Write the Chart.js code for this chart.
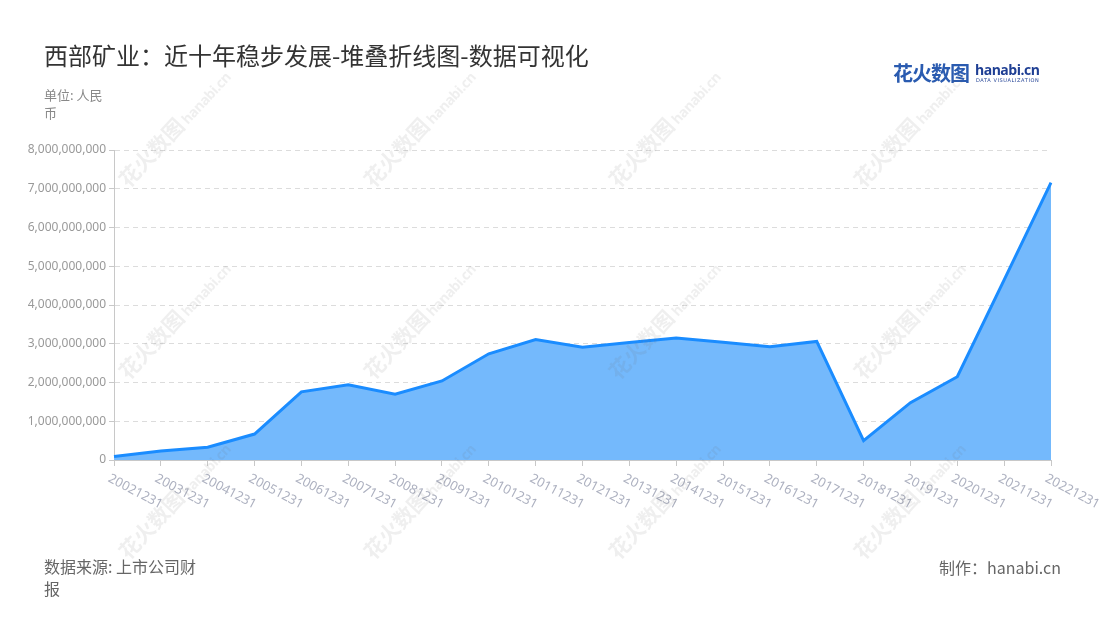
<!DOCTYPE html>
<html>
<head>
<meta charset="utf-8">
<script src="https://cdn.jsdelivr.net/npm/chart.js@4"></script>
<style>
    body { margin: 0; background: #fff; font-family: "Noto Sans CJK SC", "Noto Sans", sans-serif; }
    #wrap { position: relative; width: 1100px; height: 620px; overflow: hidden; }
    #myChart { position: absolute; left: 0; top: 0; }
    .title { position: absolute; left: 44px; top: 37px; font-size: 24px; color: #333; }
    .unit { position: absolute; left: 44px; top: 86px; font-size: 13px; color: #888; line-height: 18px; width: 70px; }
    .source { position: absolute; left: 44px; top: 555px; font-size: 16px; color: #666; line-height: 22px; width: 165px; }
    .made { position: absolute; right: 39px; top: 555px; font-size: 16px; color: #666; }
    .logo { position: absolute; left: 893px; top: 58px; height: 30px; }
    .logo .cn { position: absolute; left: 0; top: 0; font-size: 20px; font-weight: bold; color: #2a5bb0; letter-spacing: -1px; white-space: nowrap; }
    .logo .en { position: absolute; left: 82px; top: 2px; font-size: 14px; font-weight: bold; color: #1f3f94; font-family: "Open Sans", sans-serif; letter-spacing: -0.5px; }
    .logo .sub { position: absolute; left: 83px; top: 19px; font-size: 5px; color: #1f3f94; letter-spacing: 0.6px; white-space: nowrap; font-family: "DejaVu Sans", sans-serif; }
    .wm { position: absolute; width: 160px; height: 26px; transform-origin: 0 100%; transform: rotate(-47deg);
          color: rgba(110, 110, 110, 0.11); white-space: nowrap; pointer-events: none; }
    .wm b { font-size: 21px; }
    .wm span { font-size: 14px; font-weight: bold; font-family: "Open Sans", sans-serif; margin-left: 3px; letter-spacing: -0.5px; }
</style>
</head>
<body>
<div id="wrap">
    <canvas id="myChart" width="1100" height="620"></canvas>
    <div class="title">西部矿业：近十年稳步发展-堆叠折线图-数据可视化</div>
    <div class="unit">单位: 人民<br>币</div>
    <div class="source">数据来源: 上市公司财<br>报</div>
    <div class="made">制作：hanabi.cn</div>
    <div class="logo">
        <div class="cn">花火数图</div>
        <div class="en">hanabi.cn</div>
        <div class="sub">DATA VISUALIZATION</div>
    </div>
</div>
<script>
const categories = ['20021231', '20031231', '20041231', '20051231', '20061231', '20071231', '20081231',
    '20091231', '20101231', '20111231', '20121231', '20131231', '20141231', '20151231', '20161231',
    '20171231', '20181231', '20191231', '20201231', '20211231', '20221231'];
const values = [90000000, 230000000, 330000000, 670000000, 1760000000, 1940000000, 1700000000,
    2040000000, 2740000000, 3110000000, 2910000000, 3030000000, 3150000000, 3040000000, 2920000000,
    3060000000, 500000000, 1480000000, 2150000000, 4650000000, 7160000000];
const yMax = 8000000000;
const yStep = 1000000000;

// faint watermarks over the whole page
const wrap = document.getElementById('wrap');
[130, 375, 620, 865].forEach(x => {
    [190, 382, 562].forEach(y => {
        const d = document.createElement('div');
        d.className = 'wm';
        d.style.left = x + 'px';
        d.style.top = (y - 26) + 'px';
        d.innerHTML = '<b>花火数图</b><span>hanabi.cn</span>';
        wrap.appendChild(d);
    });
});

// x labels are drawn slanted downwards (clockwise), which Chart.js can't do by itself
const slantLabels = {
    id: 'slantLabels',
    afterDraw(chart) {
        const ctx = chart.ctx;
        const x = chart.scales.x;
        ctx.save();
        ctx.font = '13px "Noto Sans", sans-serif';
        ctx.fillStyle = '#adb1c0';
        ctx.textAlign = 'left';
        ctx.textBaseline = 'top';
        categories.forEach((c, i) => {
            const px = x.getPixelForTick(i);
            ctx.save();
            ctx.translate(px - 2, x.top + 12);
            ctx.rotate(Math.PI / 6.5);
            ctx.fillText(c, 0, 0);
            ctx.restore();
        });
        ctx.restore();
    }
};

new Chart(document.getElementById('myChart').getContext('2d'), {
    type: 'line',
    data: {
        labels: categories,
        datasets: [{
            data: values,
            borderColor: '#1a8cff',
            backgroundColor: '#74b9fc',
            borderWidth: 3,
            fill: 'origin',
            pointRadius: 0,
            tension: 0
        }]
    },
    options: {
        responsive: false,
        animation: false,
        layout: { padding: { left: 0, right: 49, top: 150, bottom: 0 } },
        plugins: {
            legend: { display: false },
            tooltip: { enabled: false }
        },
        scales: {
            x: {
                offset: false,
                grid: { drawOnChartArea: false, tickLength: 6, color: '#c8c8c8' },
                border: { color: '#c8c8c8' },
                ticks: { display: false },
                afterFit(s) { s.height = 160; }
            },
            y: {
                min: 0,
                max: yMax,
                grid: { color: '#dcdcdc', tickBorderDash: [], tickColor: '#c8c8c8', tickLength: 5 },
                border: { color: '#c8c8c8', width: 1, dash: [5, 4] },
                ticks: {
                    stepSize: yStep,
                    padding: 3,
                    color: '#999',
                    font: { size: 12, family: '"Noto Sans", sans-serif' },
                    callback: v => v.toLocaleString('en-US')
                },
                afterFit(s) { s.width = 114; }
            }
        }
    },
    plugins: [slantLabels]
});
</script>
</body>
</html>
